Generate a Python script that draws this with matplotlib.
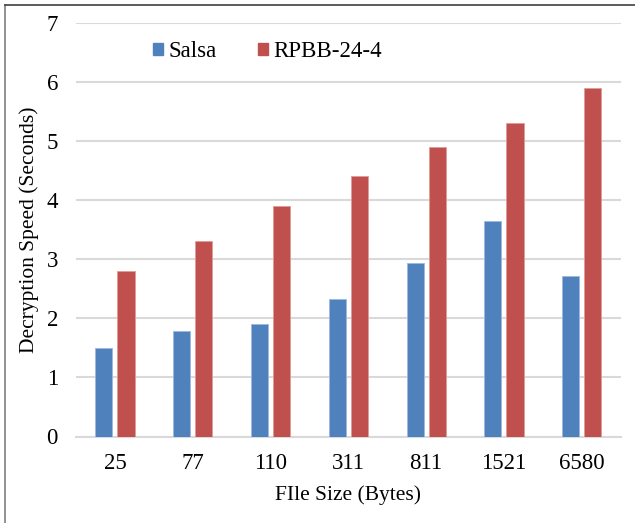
import matplotlib
matplotlib.use("Agg")
import matplotlib.pyplot as plt
import numpy as np
from matplotlib.lines import Line2D
from matplotlib.patches import Patch

categories = ["25", "77", "110", "311", "811", "1521", "6580"]
salsa = [1.49, 1.78, 1.91, 2.33, 2.94, 3.64, 2.71]
rpbb = [2.80, 3.30, 3.90, 4.40, 4.90, 5.30, 5.90]
series_names = ["Salsa", "RPBB-24-4"]
yticks = [0, 1, 2, 3, 4, 5, 6, 7]

plt.rcParams['font.family'] = ['Liberation Serif', 'DejaVu Serif']

W, H = 635, 523
fig = plt.figure(figsize=(W / 100, H / 100), dpi=100)
ax = fig.add_axes([76 / W, 1 - 436.5 / H, (620.7 - 76) / W, (436.5 - 22.7) / H])

x = np.arange(len(categories))
bw = 0.22
off = 0.142
blue = "#4F81BD"
red = "#C0504D"
ax.bar(x - off, salsa, bw, color=blue, edgecolor="#9DB9DE", linewidth=0.6, zorder=3)
ax.bar(x + off, rpbb, bw, color=red, edgecolor="#E29A98", linewidth=0.6, zorder=3)

ax.set_xlim(-0.5, len(categories) - 0.5)
ax.set_ylim(0, 7)
ax.set_yticks(yticks)
ax.set_yticklabels([str(t) for t in yticks], fontsize=16.5)
ax.set_xticks(x)
ax.set_xticklabels(categories, fontsize=16.5)
ax.tick_params(axis='both', length=0)
ax.tick_params(axis='y', pad=13)
ax.tick_params(axis='x', pad=12)
ax.grid(axis='y', color="#D9D9D9", linewidth=1.5, zorder=0)
for s in ["top", "right", "left"]:
    ax.spines[s].set_visible(False)
ax.spines["bottom"].set_color("#D9D9D9")
ax.spines["bottom"].set_linewidth(1.5)

ax.set_xlabel("FIle Size (Bytes)", fontsize=15.5, labelpad=8)
ax.set_ylabel("Decryption Speed (Seconds)", fontsize=15.5, labelpad=5)

handles = [Patch(color=blue), Patch(color=red)]
ax.legend(handles, series_names, loc="upper left", bbox_to_anchor=(0.141, 0.956),
          ncol=2, frameon=False, fontsize=16.5, handlelength=0.44, handleheight=0.44,
          handletextpad=0.25, columnspacing=1.78, borderpad=0, borderaxespad=0)

# figure border (left and top)
fig.add_artist(Line2D([5 / W, 5 / W], [0, 1 - 5 / H], transform=fig.transFigure, color="#7F7F7F", linewidth=1.2))
fig.add_artist(Line2D([5 / W, 1], [1 - 5 / H, 1 - 5 / H], transform=fig.transFigure, color="#3F3F3F", linewidth=1.2))

fig.savefig("out.png", dpi=100)
